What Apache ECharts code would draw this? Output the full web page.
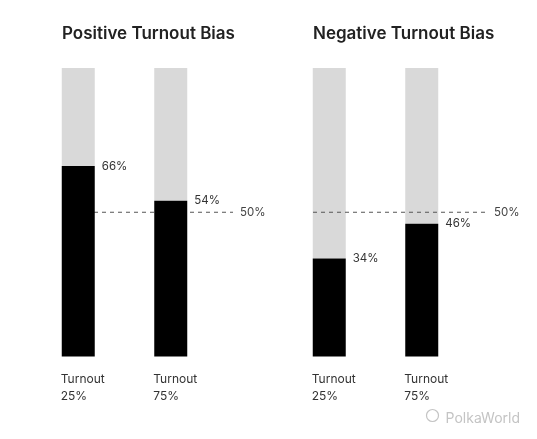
<!DOCTYPE html>
<html>
<head>
<meta charset="utf-8">
<script src="https://cdn.jsdelivr.net/npm/echarts@6/dist/echarts.min.js"></script>
<style>
  html, body { margin: 0; padding: 0; background: #fff; }
  #chart { width: 537px; height: 439px; }
</style>
</head>
<body>
<div id="chart"></div>
<script>
/* ---- data ---- */
const panelTitles = ["Positive Turnout Bias", "Negative Turnout Bias"];
const turnoutLabels = ["25%", "75%"];
const positiveShare = [66, 54];   // black part, positive bias panel
const negativeShare = [34, 46];   // black part, negative bias panel
const referenceLine = 50;

const FONT = "Inter, 'Noto Sans', sans-serif";
const BLACK = "#000000";
const GRAY = "#d9d9d9";

/* one panel = a bar grid + a wider grid for the dashed 50% line */
function panelSeries(p, values) {
  return [
    {
      type: "bar",
      xAxisIndex: p, yAxisIndex: p,
      stack: "s" + p,
      barWidth: 33,
      z: 4,
      data: values,
      itemStyle: { color: BLACK },
      label: {
        show: true,
        position: ["0%", "100%"],
        offset: [-1, 14],
        align: "left",
        verticalAlign: "top",
        fontFamily: FONT, fontSize: 12, lineHeight: 17, color: "#333",
        formatter: d => "Turnout\n" + turnoutLabels[d.dataIndex]
      }
    },
    {
      type: "bar",
      xAxisIndex: p, yAxisIndex: p,
      stack: "s" + p,
      barWidth: 33,
      z: 2,
      data: values.map(v => 100 - v),
      itemStyle: { color: GRAY },
      label: {
        show: true,
        position: ["100%", "100%"],
        offset: [7, 0],
        align: "left",
        verticalAlign: "middle",
        fontFamily: FONT, fontSize: 11.5, color: "#333",
        formatter: d => values[d.dataIndex] + "%"
      }
    },
    {
      type: "line",
      xAxisIndex: p + 2, yAxisIndex: p + 2,
      z: 3,
      symbol: "none",
      silent: true,
      data: [[0, referenceLine], [1, referenceLine]],
      lineStyle: { color: "#555", width: 1, type: [4, 4] },
      endLabel: {
        show: true,
        distance: 7,
        fontFamily: FONT, fontSize: 11.5, color: "#444",
        formatter: () => referenceLine + "%"
      }
    }
  ];
}

const barGrid = { top: 68, height: 288.5, width: 185 };
const grids = [
  Object.assign({ left: 32 }, barGrid),
  Object.assign({ left: 283 }, barGrid),
  { left: 62, width: 171, top: 68, height: 288.5 },
  { left: 313, width: 174, top: 68, height: 288.5 }
];

const xAxes = [0, 1].map(i => ({
  type: "category", gridIndex: i, data: turnoutLabels, show: false
})).concat([2, 3].map(i => ({
  type: "value", gridIndex: i, min: 0, max: 1, show: false
})));

const yAxes = [0, 1, 2, 3].map(i => ({
  type: "value", gridIndex: i, min: 0, max: 100, show: false
}));

const chart = echarts.init(document.getElementById("chart"));
chart.setOption({
  backgroundColor: "#fff",
  animation: false,
  title: panelTitles.map((t, i) => ({
    text: t,
    left: i === 0 ? 62 : 313,
    top: 25,
    padding: 0,
    textStyle: { fontFamily: FONT, fontSize: 17, fontWeight: 600, color: "#222" }
  })),
  grid: grids,
  xAxis: xAxes,
  yAxis: yAxes,
  series: panelSeries(0, positiveShare).concat(panelSeries(1, negativeShare)),
  graphic: [{
    type: "text",
    right: 17, bottom: 13,
    style: { text: "PolkaWorld", fontFamily: FONT, fontSize: 14, fill: "#c4c4c4" }
  }, {
    type: "circle",
    right: 96, bottom: 15,
    shape: { r: 6 },
    style: { fill: "none", stroke: "#c4c4c4", lineWidth: 1.2 }
  }]
});
</script>
</body>
</html>
